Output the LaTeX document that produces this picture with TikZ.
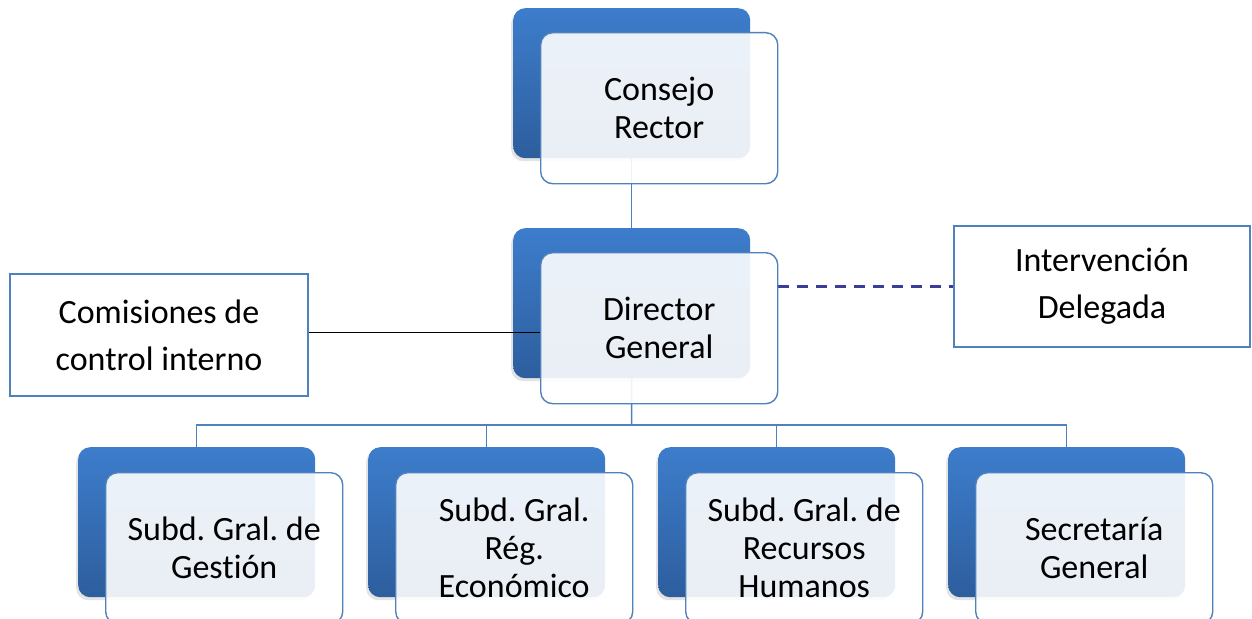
\documentclass[tikz,border=0pt]{standalone}
\usepackage{fontspec}
\setmainfont{Carlito}[Ligatures={NoCommon}]
\usetikzlibrary{shadows}
\definecolor{backtop}{HTML}{3D7DCC}
\definecolor{backbot}{HTML}{2D5E9D}
\definecolor{edgeblue}{HTML}{4F81BD}
\definecolor{dashblue}{HTML}{3C3C99}
\pgfdeclarelayer{back}
\pgfdeclarelayer{conn}
\pgfsetlayers{back,conn,main}
\frenchspacing
\begin{document}
\begin{tikzpicture}[x=1pt,y=-1pt,
  backbox/.style={anchor=north west, minimum width=237pt, minimum height=150pt,
    inner sep=0pt, rounded corners=12pt, top color=backtop, bottom color=backbot,
    drop shadow={shadow xshift=-2pt, shadow yshift=-3pt, opacity=0.22}},
  frontbox/.style={anchor=north west, minimum width=237pt, minimum height=151pt,
    inner sep=0pt, rounded corners=12pt, draw=edgeblue, line width=1.4pt,
    fill=white, fill opacity=0.9, text opacity=1, align=center,
    font=\fontsize{34}{38}\selectfont},
  sidebox/.style={draw=edgeblue, line width=2.4pt, fill=white, align=center,
    inner sep=0pt, font=\fontsize{34}{47}\selectfont},
  conn/.style={draw=edgeblue, line width=1.5pt},
  plain/.style={draw=black, line width=1.3pt},
  dashconn/.style={draw=dashblue, line width=2.2pt, dash pattern=on 11pt off 8pt}]
\useasboundingbox (0,0) rectangle (1252,618);

% back boxes
\begin{pgfonlayer}{back}
\fill[white] (0,0) rectangle (1252,618);
\node[backbox] (topB) at (513,8) {};
\node[backbox] (dirB) at (513,228) {};
\node[backbox] (b1B) at (78,447) {};
\node[backbox] (b2B) at (368,447) {};
\node[backbox] (b3B) at (658,447) {};
\node[backbox] (b4B) at (948,447) {};
\end{pgfonlayer}

% front boxes
\node[frontbox] (topF) at (540,32) {Consejo\\Rector};
\node[frontbox] (dirF) at (540,252) {Director\\General};
\node[frontbox] (b1F) at (105,472) {Subd. Gral. de\\Gestión};
\node[frontbox] (b2F) at (395,472) {Subd. Gral.\\Rég.\\Económico};
\node[frontbox] (b3F) at (685,472) {Subd. Gral. de\\Recursos\\Humanos};
\node[frontbox] (b4F) at (975,472) {Secretaría\\General};

% side boxes
\node[sidebox, minimum width=298pt, minimum height=122pt] (com) at (159,335)
  {Comisiones de\\control interno};
\node[sidebox, minimum width=296pt, minimum height=121pt] (intv) at (1102,286.5)
  {Intervención\\Delegada};

% connectors
\begin{pgfonlayer}{conn}
\coordinate (bus) at (631.5,425);
\draw[conn] (topB.south) -- (dirB.north);
\draw[conn] (dirB.south) -- (bus);
\draw[conn] (bus) -| (b1B.north);
\draw[conn] (bus) -| (b2B.north);
\draw[conn] (bus) -| (b3B.north);
\draw[conn] (bus) -| (b4B.north);
\draw[plain] ([yshift=-4pt]dirF.west) -- ([yshift=-4pt]dirF.west -| com.east);
\draw[dashconn] (intv.west -| dirF.east) -- (intv.west);
\end{pgfonlayer}
\end{tikzpicture}
\end{document}
